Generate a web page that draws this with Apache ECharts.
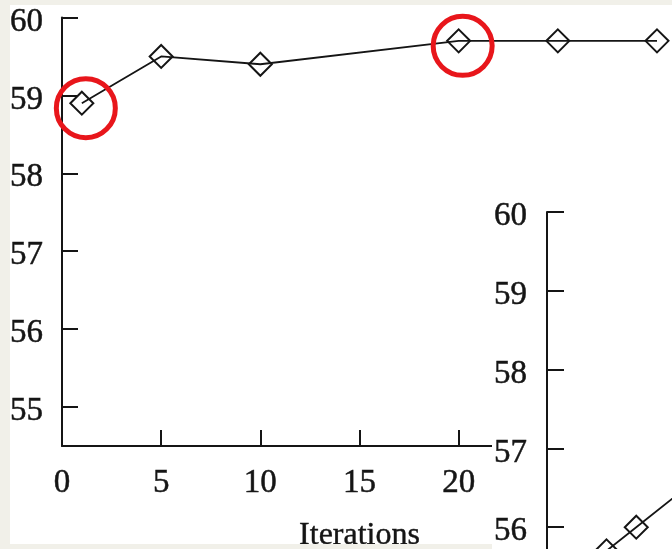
<!DOCTYPE html>
<html><head><meta charset="utf-8">
<script src="https://cdn.jsdelivr.net/npm/echarts@6/dist/echarts.min.js"></script>
<style>
html,body{margin:0;padding:0;width:672px;height:549px;overflow:hidden;background:#f1f0e9;}
#main{position:absolute;left:10px;top:5px;width:662px;height:539px;background:#fff;}
#inset{position:absolute;left:492px;top:185px;width:180px;height:364px;background:#fff;}
</style></head><body>
<div id="main"></div><div id="inset"></div>
<script>
const iterations = [1, 5, 10, 20, 25, 30];
const accuracy = [58.9, 59.5, 59.4, 59.7, 59.7, 59.7];
const yTickValues = [55, 56, 57, 58, 59, 60];
const xAxisName = 'Iterations';
const circledIterations = [1, 20];
const insetX = [3, 4.5, 7];
const insetY = [55.7, 56.0, 56.5];

const FONT = 'Liberation Serif';
const INK = '#151515';
const labelText = {fontFamily: FONT, fontSize: 33, color: INK, textBorderColor: INK, textBorderWidth: 0.5};
const yLabelRich = {formatter: '{v|{value}}', rich: {v: Object.assign({padding: [9, 0, 0, 0]}, labelText)}};

const mainChart = echarts.init(document.getElementById('main'), null, {renderer: 'canvas'});
const circled = circledIterations.map(it => {
  const i = iterations.indexOf(it);
  return {coord: [iterations[i], accuracy[i]], symbolOffset: [4, 5]};
});
mainChart.setOption({
  animation: false,
  backgroundColor: '#fff',
  grid: {left: 52, top: 12.5, width: 595, height: 428.5, containLabel: false, outerBoundsMode: 'none'},
  xAxis: {
    type: 'value', min: 0, max: 30, interval: 5,
    name: xAxisName, nameLocation: 'middle', nameGap: 74,
    nameTextStyle: {fontFamily: FONT, fontSize: 32, color: INK, textBorderColor: INK, textBorderWidth: 0.4},
    axisLine: {show: true, lineStyle: {color: INK, width: 2}},
    axisTick: {show: true, inside: true, length: 16, lineStyle: {color: INK, width: 2}},
    axisLabel: Object.assign({margin: 21}, labelText),
    splitLine: {show: false}
  },
  yAxis: {
    type: 'value', min: 54.5, max: 60,
    axisLine: {show: true, lineStyle: {color: INK, width: 2}},
    axisTick: {show: true, inside: true, length: 16, lineStyle: {color: INK, width: 2}, customValues: yTickValues},
    axisLabel: Object.assign({margin: 19, customValues: yTickValues}, labelText, yLabelRich),
    splitLine: {show: false}
  },
  series: [{
    type: 'line',
    data: iterations.map((x, i) => [x, accuracy[i]]),
    symbol: 'diamond', symbolSize: 23,
    lineStyle: {color: INK, width: 1.8},
    itemStyle: {color: 'rgba(0,0,0,0)', borderColor: INK, borderWidth: 2},
    markPoint: {
      symbol: 'circle', symbolSize: 59,
      itemStyle: {color: 'rgba(0,0,0,0)', borderColor: '#e8161b', borderWidth: 5},
      label: {show: false},
      data: circled
    }
  }]
});

const insetChart = echarts.init(document.getElementById('inset'), null, {renderer: 'canvas'});
insetChart.setOption({
  animation: false,
  backgroundColor: '#fff',
  grid: {left: 55, top: 27, width: 595, height: 394, containLabel: false, outerBoundsMode: 'none'},
  xAxis: {type: 'value', min: 0, max: 30, show: false},
  yAxis: {
    type: 'value', min: 55, max: 60, interval: 1,
    axisLine: {show: true, lineStyle: {color: INK, width: 2}},
    axisTick: {show: true, inside: true, length: 17, lineStyle: {color: INK, width: 2}},
    axisLabel: Object.assign({margin: 20}, labelText, yLabelRich),
    splitLine: {show: false}
  },
  series: [{
    type: 'line',
    data: insetX.map((x, i) => [x, insetY[i]]),
    symbol: 'diamond', symbolSize: 23,
    lineStyle: {color: INK, width: 1.8},
    itemStyle: {color: 'rgba(0,0,0,0)', borderColor: INK, borderWidth: 2}
  }]
});
</script></body></html>
